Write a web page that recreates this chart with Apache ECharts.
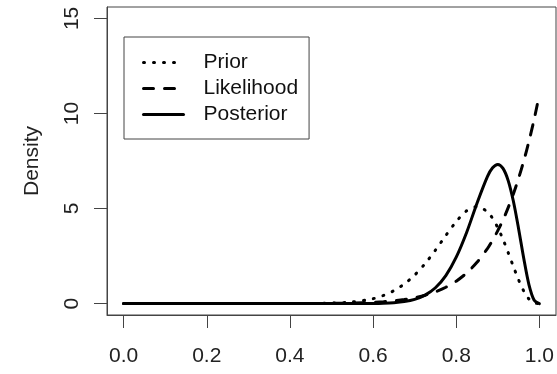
<!DOCTYPE html>
<html>
<head>
<meta charset="utf-8">
<script src="https://cdn.jsdelivr.net/npm/echarts@6/dist/echarts.min.js"></script>
<style>html,body{margin:0;padding:0;background:#fff}#c{width:557px;height:374px}</style>
</head>
<body>
<div id="c"></div>
<script>
// values
var xs = [0, 0.1, 0.2, 0.3, 0.4, 0.45, 0.5, 0.55, 0.6, 0.625, 0.65, 0.675, 0.7, 0.725, 0.75, 0.775, 0.8, 0.825, 0.85, 0.875, 0.8875, 0.9, 0.9125, 0.925, 0.9375, 0.95, 0.9625, 0.975, 0.9875, 1];
var prior = [0, 0, 0, 0, 0.0009, 0.0051, 0.0228, 0.0841, 0.259, 0.428, 0.678, 1.03, 1.50, 2.10, 2.81, 3.58, 4.31, 4.88, 5.10, 4.83, 4.48, 3.99, 3.38, 2.68, 1.95, 1.25, 0.66, 0.24, 0.04, 0];
var likelihood = [0, 0, 0, 0.0001, 0.0012, 0.0038, 0.0107, 0.028, 0.067, 0.100, 0.148, 0.216, 0.311, 0.441, 0.620, 0.860, 1.18, 1.61, 2.17, 2.89, 3.34, 3.84, 4.40, 5.05, 5.77, 6.59, 7.51, 8.54, 9.70, 11.0];
var posterior = [0, 0, 0, 0, 0, 0, 0.0001, 0.0011, 0.0083, 0.020, 0.048, 0.106, 0.223, 0.444, 0.832, 1.47, 2.44, 3.74, 5.28, 6.68, 7.14, 7.32, 7.11, 6.47, 5.38, 3.94, 2.37, 0.99, 0.18, 0];
var xTicks = [0, 0.2, 0.4, 0.6, 0.8, 1.0];
var yTicks = [0, 5, 10, 15];
var seriesNames = ['Prior', 'Likelihood', 'Posterior'];

function pairs(ys) { return xs.map(function (x, i) { return [x, ys[i]]; }); }

var font = 'Liberation Sans, Arial, Helvetica, sans-serif';
var chart = echarts.init(document.getElementById('c'), null, {renderer: 'canvas'});
chart.setOption({
  animation: false,
  backgroundColor: '#fff',
  grid: {left: 107, right: 1, top: 7, bottom: 59, show: true, borderColor: '#444', borderWidth: 1},
  legend: {
    orient: 'vertical', left: 124, top: 37,
    padding: [15, 11, 14, 18],
    borderColor: '#444', borderWidth: 1,
    itemWidth: 40, itemHeight: 14, itemGap: 5,
    itemStyle: {opacity: 0},
    lineStyle: {width: 3, opacity: 1},
    textStyle: {fontFamily: font, fontSize: 21, color: '#111', lineHeight: 21, padding: [0, 0, 0, 15]},
    data: seriesNames
  },
  xAxis: {
    type: 'value', min: -0.04, max: 1.04,
    axisLine: {show: true, onZero: false, lineStyle: {color: '#444', width: 1}},
    splitLine: {show: false},
    axisTick: {show: true, inside: false, length: 13, lineStyle: {color: '#444'}, customValues: xTicks},
    axisLabel: {customValues: xTicks, margin: 31, fontFamily: font, fontSize: 21, color: '#222',
      formatter: function (v) { return v.toFixed(1); }}
  },
  yAxis: {
    type: 'value', min: -0.6, max: 15.6,
    name: 'Density', nameLocation: 'middle', nameGap: 64, nameRotate: 90,
    nameTextStyle: {fontFamily: font, fontSize: 21, color: '#222'},
    axisLine: {show: true, onZero: false, lineStyle: {color: '#444', width: 1}},
    splitLine: {show: false},
    axisTick: {show: true, inside: false, length: 13, lineStyle: {color: '#444'}, customValues: yTicks},
    axisLabel: {customValues: yTicks, rotate: 90, margin: 24, fontFamily: font, fontSize: 21, color: '#222'}
  },
  series: [
    {name: 'Prior', type: 'line', showSymbol: false, symbol: 'none', smooth: 0.3, data: pairs(prior),
      lineStyle: {color: '#000', width: 3, type: [1, 9], cap: 'round'}, itemStyle: {color: '#000'}},
    {name: 'Likelihood', type: 'line', showSymbol: false, symbol: 'none', smooth: 0.3, data: pairs(likelihood),
      lineStyle: {color: '#000', width: 3, type: [10, 11], cap: 'round'}, itemStyle: {color: '#000'}},
    {name: 'Posterior', type: 'line', showSymbol: false, symbol: 'none', smooth: 0.3, data: pairs(posterior),
      lineStyle: {color: '#000', width: 3, type: 'solid', cap: 'round'}, itemStyle: {color: '#000'}}
  ]
});
</script>
</body>
</html>
